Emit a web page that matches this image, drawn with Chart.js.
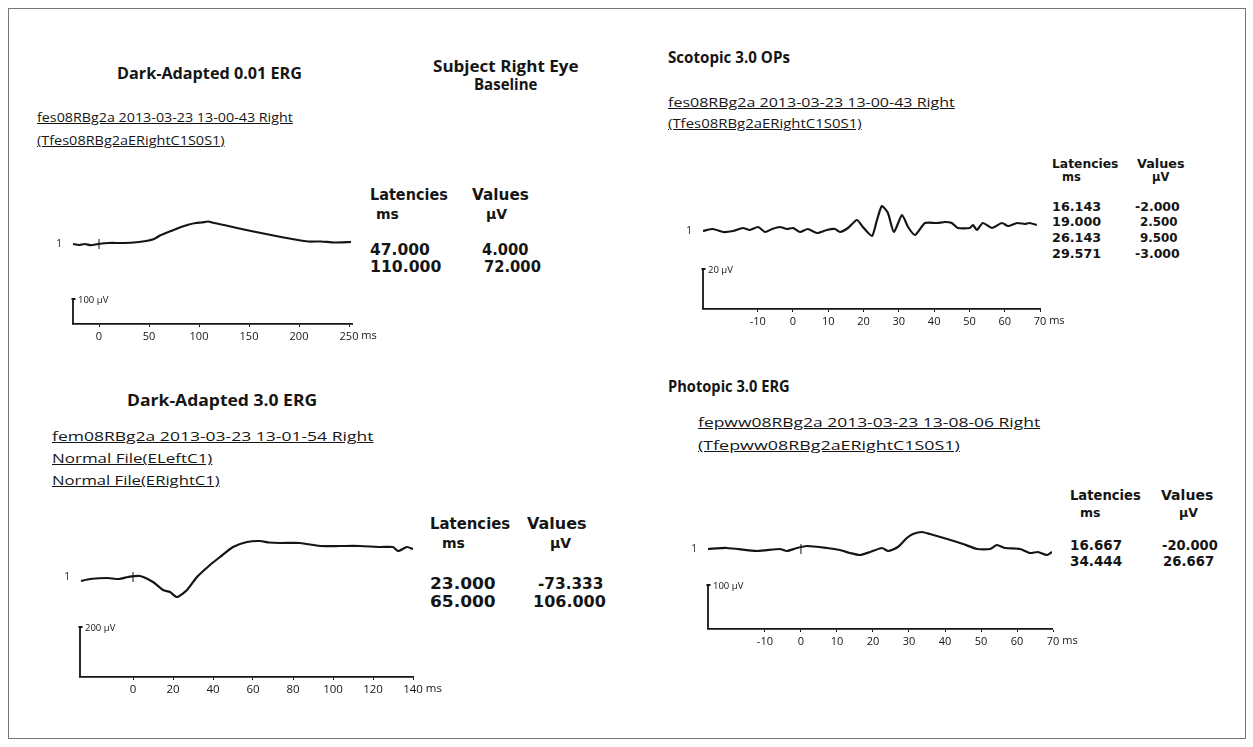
<!DOCTYPE html>
<html>
<head>
<meta charset="utf-8">
<script src="https://cdn.jsdelivr.net/npm/chart.js@4.4.1/dist/chart.umd.min.js"></script>
<style>
body { margin: 0; background: #fff; }
#page { position: relative; width: 1253px; height: 747px; overflow: hidden; font-family: "Open Sans", sans-serif; color: #151515; }
#frame { position: absolute; left: 8px; top: 8px; width: 1236px; height: 729px; border: 1px solid #777; }
.t { position: absolute; white-space: nowrap; line-height: 1.2; transform-origin: 0 50%; }
.h { font-weight: 700; font-size: 15.5px; }
.f { font-size: 12px; text-decoration: underline; }
.b { font-family: "DejaVu Sans", sans-serif; font-weight: 700; }
canvas { position: absolute; }
</style>
</head>
<body>
<div id="page">
<div id="frame"></div>

<span class="t h" data-x="117" data-y="73" data-w="185">Dark-Adapted 0.01 ERG</span>
<span class="t h" data-x="433" data-y="66" data-w="145">Subject Right Eye</span>
<span class="t h" data-x="474" data-y="84" data-w="63">Baseline</span>
<span class="t h" data-x="668" data-y="57" data-w="122">Scotopic 3.0 OPs</span>
<span class="t h" data-x="127" data-y="400" data-w="190">Dark-Adapted 3.0 ERG</span>
<span class="t h" data-x="668" data-y="386" data-w="122">Photopic 3.0 ERG</span>

<span class="t f" data-x="37" data-y="118" data-w="256">fes08RBg2a 2013-03-23 13-00-43 Right</span>
<span class="t f" data-x="37" data-y="141" data-w="188">(Tfes08RBg2aERightC1S0S1)</span>
<span class="t f" data-x="668" data-y="103" data-w="287">fes08RBg2a 2013-03-23 13-00-43 Right</span>
<span class="t f" data-x="668" data-y="124" data-w="194">(Tfes08RBg2aERightC1S0S1)</span>
<span class="t f" data-x="52" data-y="437" data-w="321">fem08RBg2a 2013-03-23 13-01-54 Right</span>
<span class="t f" data-x="52" data-y="459" data-w="161">Normal File(ELeftC1)</span>
<span class="t f" data-x="52" data-y="481" data-w="168">Normal File(ERightC1)</span>
<span class="t f" data-x="698" data-y="423" data-w="342">fepww08RBg2a 2013-03-23 13-08-06 Right</span>
<span class="t f" data-x="698" data-y="446" data-w="262">(Tfepww08RBg2aERightC1S0S1)</span>

<!-- tables -->
<span class="t b" style="font-size:15px" data-x="370" data-y="195" data-w="78">Latencies</span>
<span class="t b" style="font-size:14px" data-x="376" data-y="214">ms</span>
<span class="t b" style="font-size:15px" data-x="472" data-y="195" data-w="57">Values</span>
<span class="t b" style="font-size:14px" data-x="486" data-y="214">µV</span>
<span class="t b" style="font-size:15px" data-x="370" data-y="250" data-w="60">47.000</span>
<span class="t b" style="font-size:15px" data-x="482" data-y="250" data-w="46">4.000</span>
<span class="t b" style="font-size:15px" data-x="370" data-y="267" data-w="71">110.000</span>
<span class="t b" style="font-size:15px" data-x="484" data-y="267" data-w="57">72.000</span>

<span class="t b" style="font-size:16px" data-x="430" data-y="523" data-w="80">Latencies</span>
<span class="t b" style="font-size:14px" data-x="442" data-y="543">ms</span>
<span class="t b" style="font-size:16px" data-x="527" data-y="523" data-w="60">Values</span>
<span class="t b" style="font-size:14px" data-x="550" data-y="543">µV</span>
<span class="t b" style="font-size:16px" data-x="430" data-y="583" data-w="66">23.000</span>
<span class="t b" style="font-size:16px" data-x="538" data-y="583" data-w="65">-73.333</span>
<span class="t b" style="font-size:16px" data-x="430" data-y="601" data-w="66">65.000</span>
<span class="t b" style="font-size:16px" data-x="533" data-y="601" data-w="73">106.000</span>

<span class="t b" style="font-size:12.5px" data-x="1052" data-y="163" data-w="66">Latencies</span>
<span class="t b" style="font-size:11.5px" data-x="1062" data-y="178">ms</span>
<span class="t b" style="font-size:12.5px" data-x="1137" data-y="163" data-w="48">Values</span>
<span class="t b" style="font-size:11.5px" data-x="1152" data-y="178">µV</span>
<span class="t b" style="font-size:12.5px" data-x="1052" data-y="206" data-w="49">16.143</span>
<span class="t b" style="font-size:12.5px" data-x="1135" data-y="206" data-w="45">-2.000</span>
<span class="t b" style="font-size:12.5px" data-x="1052" data-y="221" data-w="49">19.000</span>
<span class="t b" style="font-size:12.5px" data-x="1140" data-y="221" data-w="38">2.500</span>
<span class="t b" style="font-size:12.5px" data-x="1052" data-y="237" data-w="49">26.143</span>
<span class="t b" style="font-size:12.5px" data-x="1140" data-y="237" data-w="38">9.500</span>
<span class="t b" style="font-size:12.5px" data-x="1052" data-y="253" data-w="49">29.571</span>
<span class="t b" style="font-size:12.5px" data-x="1135" data-y="253" data-w="45">-3.000</span>

<span class="t b" style="font-size:13.5px" data-x="1070" data-y="495" data-w="71">Latencies</span>
<span class="t b" style="font-size:12.5px" data-x="1080" data-y="512">ms</span>
<span class="t b" style="font-size:13.5px" data-x="1161" data-y="495" data-w="52">Values</span>
<span class="t b" style="font-size:12.5px" data-x="1179" data-y="512">µV</span>
<span class="t b" style="font-size:13.5px" data-x="1070" data-y="545" data-w="52">16.667</span>
<span class="t b" style="font-size:13.5px" data-x="1162" data-y="545" data-w="56">-20.000</span>
<span class="t b" style="font-size:13.5px" data-x="1070" data-y="561" data-w="52">34.444</span>
<span class="t b" style="font-size:13.5px" data-x="1163" data-y="561" data-w="51">26.667</span>
</div>

<script>
// Dark-Adapted 0.01 ERG (ms, µV)
const da001Time = [-26, -20, -14, -8, -1, 10, 25, 40, 47, 55, 62, 72, 82, 90, 97, 103, 109, 115, 125, 138, 152, 167, 182, 196, 209, 222, 235, 252];
const da001Uv   = [0, -4, 0, -5, 0, 4, 4, 8, 12, 20, 36, 52, 68, 78, 84, 86, 90, 84, 76, 64, 52, 40, 28, 18, 10, 10, 6, 8];
const da001Ticks = [0, 50, 100, 150, 200, 250];

// Dark-Adapted 3.0 ERG
const da30Time = [-26, -21.5, -13, -7, -2.5, 3.5, 10, 15, 18.5, 22, 27, 32, 38.5, 43.5, 50, 57, 63.5, 68, 73.5, 83.5, 93.5, 103.5, 113.5, 123.5, 130, 132.5, 137, 140];
const da30Uv   = [-16, -8, -4, -8, 0, 4, -20, -52, -60, -80, -52, 0, 48, 80, 120, 140, 144, 138, 136, 136, 124, 124, 124, 120, 120, 104, 120, 112];
const da30Ticks = [0, 20, 40, 60, 80, 100, 120, 140];

// Scotopic 3.0 OPs
const opTime = [-25.5, -22.7, -19.8, -17, -14.2, -12.2, -9.9, -7.9, -5.9, -3.7, -1.7, 0, 2, 4.2, 6.8, 9.6, 11.9, 13.3, 15.6, 18.1, 19.8, 22.4, 23.8, 25.2, 26.9, 28.6, 30.9, 32.6, 34.6, 37.4, 40.8, 43.1, 45, 46.7, 50.1, 51, 52.1, 53.8, 56.4, 59.2, 60.9, 63.5, 65.7, 67.1, 69.1];
const opUv   = [0, 1, -0.5, 0, 1.5, 0.5, 2, -0.5, 1, 2, 1, 1.5, -0.5, 1, -1, 0.5, 1, -0.5, 1.5, 5.5, 2, -2.5, 5.5, 12.5, 9, -0.5, 8, 2, -2, 4, 4, 4.5, 4, 1.5, 1.5, 3, 0.5, 4, 1.5, 4, 2.5, 4, 3.5, 4, 3];
const opTicks = [-10, 0, 10, 20, 30, 40, 50, 60, 70];

// Photopic 3.0 ERG
const phTime = [-25.8, -20.6, -12.2, -5.8, -3.9, -1.1, 1.7, 7.2, 10.8, 13.6, 16.4, 19.2, 22.5, 24.2, 26.9, 29.4, 31.1, 33.6, 35.8, 40.6, 45, 48.9, 52.5, 54.4, 56.7, 60.8, 63.6, 65.8, 68.3, 69.7];
const phUv   = [0, 2.3, -4.5, 0, -4.5, 2.3, 6.8, 2.3, -2.3, -9.1, -13.6, -6.8, 2.3, -4.5, 4.5, 25, 34, 38.6, 34, 22.7, 11.4, 0, 0, 9.1, 2.3, 0, -9.1, -6.8, -13.6, -6.8];
const phTicks = [-10, 0, 10, 20, 30, 40, 50, 60, 70];

const INK = '#151515';

// place the text items and stretch them to the widths seen in the scan
document.querySelectorAll('.t').forEach(el => {
  const w = el.offsetWidth, h = el.offsetHeight;
  el.style.left = el.dataset.x + 'px';
  el.style.top = (el.dataset.y - h / 2) + 'px';
  if (el.dataset.w) el.style.transform = 'scaleX(' + (el.dataset.w / w) + ')';
});

const ergDecor = {
  id: 'ergDecor',
  afterDraw(chart, args, o) {
    const ctx = chart.ctx, ca = chart.chartArea;
    const x = chart.scales.x, y = chart.scales.y;
    ctx.save();
    ctx.strokeStyle = INK; ctx.fillStyle = INK; ctx.lineWidth = 1.8;
    // amplitude scale bar
    const top = y.getPixelForValue(y.min + o.bar);
    ctx.beginPath();
    ctx.moveTo(ca.left, ca.bottom); ctx.lineTo(ca.left, top);
    ctx.moveTo(ca.left - 1.5, top); ctx.lineTo(ca.left + 2.5, top);
    ctx.stroke();
    ctx.font = '9.5px "Open Sans"';
    ctx.textAlign = 'left'; ctx.textBaseline = 'middle';
    ctx.fillText(o.barLabel, ca.left + 5, top + 1);
    // channel label and stimulus mark
    const base = y.getPixelForValue(0);
    ctx.font = '10px "Open Sans"';
    ctx.textAlign = 'right';
    ctx.fillText('1', x.getPixelForValue(o.start) - 11, base);
    if (o.zeroMark) {
      const zx = x.getPixelForValue(0);
      ctx.lineWidth = 1;
      ctx.beginPath(); ctx.moveTo(zx, base - 5); ctx.lineTo(zx, base + 5); ctx.stroke();
    }
    // unit after the last tick label
    const last = x.ticks[x.ticks.length - 1].value;
    ctx.font = o.tickSize + 'px "Open Sans"';
    ctx.textAlign = 'left'; ctx.textBaseline = 'top';
    const lw = ctx.measureText(String(last)).width;
    ctx.fillText(' ms', x.getPixelForValue(last) + lw / 2, ca.bottom + 6);
    ctx.restore();
  }
};

function ergChart(area, time, uv, ticks, xr, yr, bar, zeroMark, tickSize) {
  const padL = 40, padR = 45, padT = 8, padB = 2, axisH = 24;
  const cv = document.createElement('canvas');
  cv.width = area.r - area.l + padL + padR;
  cv.height = area.b - area.t + padT + padB + axisH;
  cv.style.left = (area.l - padL) + 'px';
  cv.style.top = (area.t - padT) + 'px';
  document.getElementById('page').appendChild(cv);

  return new Chart(cv.getContext('2d'), {
    type: 'line',
    data: {
      datasets: [{
        data: time.map((t, i) => ({ x: t, y: uv[i] })),
        borderColor: INK,
        borderWidth: 2.2,
        pointRadius: 0,
        tension: 0.2,
        fill: false
      }]
    },
    options: {
      responsive: false,
      animation: false,
      layout: { padding: { left: padL, right: padR, top: padT, bottom: padB } },
      scales: {
        x: {
          type: 'linear', min: xr[0], max: xr[1],
          afterBuildTicks: s => { s.ticks = ticks.map(v => ({ value: v })); },
          afterFit: s => { s.height = axisH; },
          border: { display: true, color: INK, width: 1.8 },
          grid: { display: true, drawOnChartArea: false, drawTicks: true, tickLength: 3, color: INK, lineWidth: 1 },
          ticks: { color: INK, font: { family: 'Open Sans', size: tickSize }, padding: 3, maxRotation: 0, autoSkip: false }
        },
        y: { display: false, min: yr[0], max: yr[1] }
      },
      plugins: {
        legend: { display: false },
        tooltip: { enabled: false },
        ergDecor: { bar: bar, barLabel: bar + ' µV', start: time[0], zeroMark: zeroMark, tickSize: tickSize }
      }
    },
    plugins: [ergDecor]
  });
}

ergChart({ l: 73, t: 210, r: 352, b: 324 }, da001Time, da001Uv, da001Ticks, [-26, 253], [-320, 136], 100, true, 11);
ergChart({ l: 80, t: 530, r: 413, b: 677 }, da30Time, da30Uv, da30Ticks, [-26.5, 140], [-400, 188], 200, true, 11.5);
ergChart({ l: 703, t: 196, r: 1040, b: 309 }, opTime, opUv, opTicks, [-25.5, 70], [-39, 17.5], 20, false, 11);
ergChart({ l: 708, t: 520, r: 1052, b: 629 }, phTime, phUv, phTicks, [-25.8, 69.7], [-181.8, 65.9], 100, true, 11);
</script>
</body>
</html>
